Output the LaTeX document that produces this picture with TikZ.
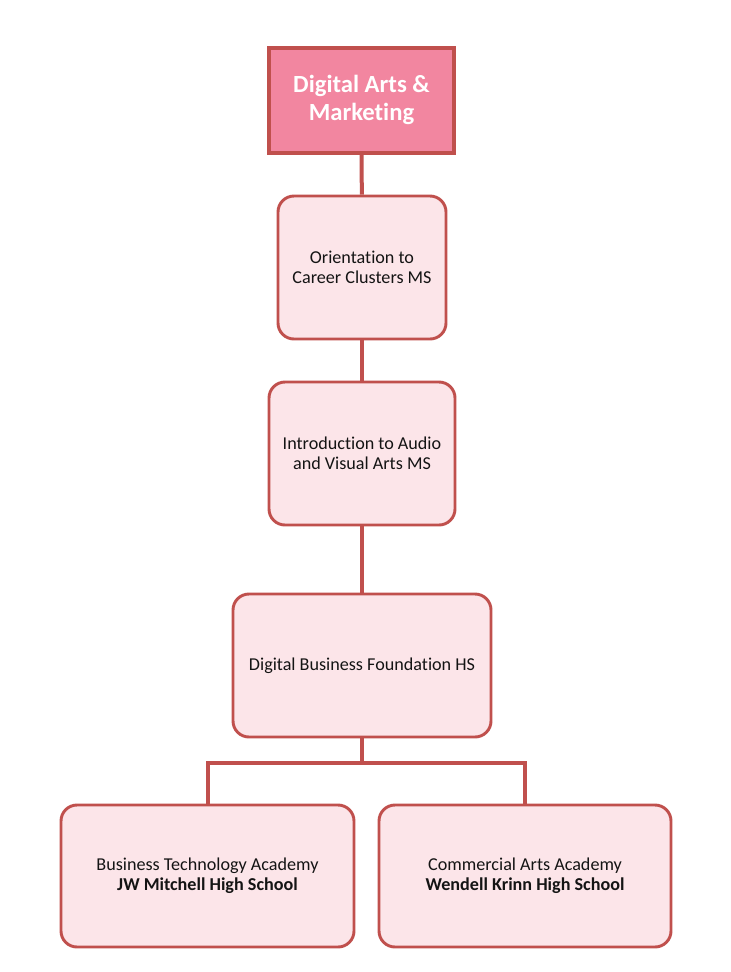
\documentclass[tikz,border=0pt]{standalone}
\usepackage{fontspec}
\setmainfont[Ligatures={NoCommon,NoDiscretionary,NoContextual}]{Carlito}
\definecolor{edge}{RGB}{192,80,77}
\definecolor{topfill}{RGB}{242,134,160}
\definecolor{boxfill}{RGB}{252,229,233}
\definecolor{txt}{RGB}{20,20,20}
\begin{document}
\begin{tikzpicture}[x=0.75pt,y=-0.75pt,
  topbox/.style={draw=edge,line width=3pt,fill=topfill,text=white,font=\fontsize{18.5}{21.5}\selectfont\bfseries,align=center,inner sep=0pt},
  stagebox/.style={draw=edge,line width=2.2pt,fill=boxfill,rounded corners=12pt,text=txt,font=\fontsize{13.6}{15}\selectfont,align=center,inner sep=0pt},
  link/.style={draw=edge,line width=3pt}]
\useasboundingbox (0,0) rectangle (731,972);
\node[topbox,minimum width=185*0.75pt,minimum height=105*0.75pt] (top) at (361.5,100) {Digital Arts \&\\Marketing};
\node[stagebox,minimum width=168*0.75pt,minimum height=143*0.75pt] (orient) at (362,267.5) {Orientation to\\Career Clusters MS};
\node[stagebox,minimum width=186*0.75pt,minimum height=143*0.75pt] (intro) at (362,453.5) {Introduction to Audio\\and Visual Arts MS};
\node[stagebox,minimum width=258*0.75pt,minimum height=143*0.75pt] (found) at (362,665.5) {Digital Business Foundation HS};
\node[stagebox,minimum width=293*0.75pt,minimum height=142*0.75pt] (bta) at (207.5,876) {Business Technology Academy\\\textbf{JW Mitchell High School}};
\node[stagebox,minimum width=292*0.75pt,minimum height=142*0.75pt] (caa) at (525,876) {Commercial Arts Academy\\\textbf{Wendell Krinn High School}};
\coordinate (split) at (362,763);
\draw[link] (top) -- (orient);
\draw[link] (orient) -- (intro);
\draw[link] (intro) -- (found);
\draw[link] (found.south) -- (split);
\draw[link] (split) -| (bta.north);
\draw[link] (split) -| (caa.north);
\end{tikzpicture}
\end{document}
